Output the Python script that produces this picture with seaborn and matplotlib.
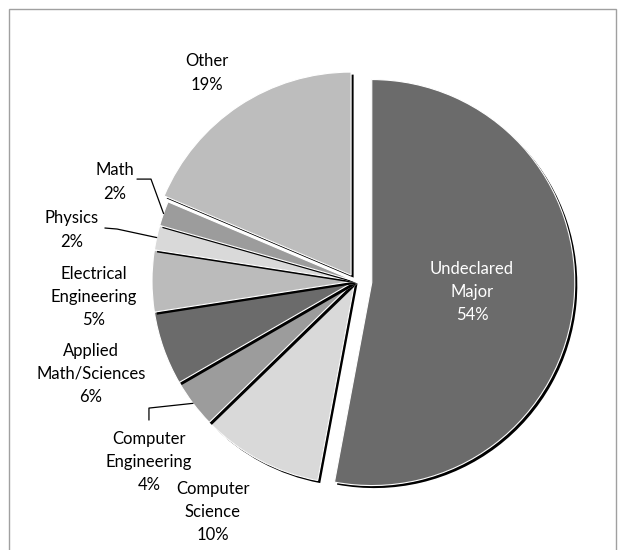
import matplotlib
matplotlib.use("Agg")
import matplotlib.pyplot as plt
import matplotlib.patches as mpatches
import seaborn as sns
import numpy as np
from matplotlib.patches import Rectangle

sns.set_theme(style="white")
plt.rcParams['font.family'] = ['Lato', 'DejaVu Sans']

# ---- data ----
categories = ["Undeclared\nMajor", "Computer\nScience", "Computer\nEngineering",
              "Applied\nMath/Sciences", "Electrical\nEngineering", "Physics",
              "Math", "Other"]
values = [54, 10, 4, 6, 5, 2, 2, 19]
pct_labels = ["54%", "10%", "4%", "6%", "5%", "2%", "2%", "19%"]
colors = ["#6b6b6b", "#d9d9d9", "#9c9c9c", "#6b6b6b", "#bbbbbb", "#d9d9d9", "#9c9c9c", "#bdbdbd"]
explode = [0.083, 0, 0, 0, 0, 0, 0, 0.035]

# ---- layout (data units, pie radius = 1) ----
label_pos = [(0.576, -0.054), (-0.700, -1.138), (-1.015, -0.892), (-1.300, -0.458),
             (-1.286, -0.079), (-1.394, 0.251), (-1.182, 0.488), (-0.729, 1.025)]
leaders = {6: [(-1.074, 0.502), (-1.005, 0.502)],
           5: [(-1.232, 0.261), (-1.172, 0.256)],
           2: [(-1.015, -0.685), (-1.015, -0.626)]}

fig = plt.figure(figsize=(6.24, 5.5), dpi=100)
ax = fig.add_axes([0, 0, 1, 1])

wedges, _ = ax.pie(values, colors=colors, explode=explode, startangle=90,
                   counterclock=False, radius=1.0,
                   wedgeprops=dict(edgecolor="white", linewidth=0.8))

# shadow of each wedge sits above the previous wedges but below its own wedge
for i, w in enumerate(wedges):
    w.set_zorder(3 + 2 * i)
    sh = mpatches.Shadow(w, 0.009, -0.009, shade=1.0, alpha=1.0,
                         linewidth=0, zorder=2 + 2 * i)
    ax.add_patch(sh)

for i, (cat, pct) in enumerate(zip(categories, pct_labels)):
    x, y = label_pos[i]
    col = "white" if i == 0 else "black"
    ax.text(x, y, f"{cat}\n{pct}", ha="center", va="center", fontsize=12,
            color=col, linespacing=1.55, zorder=40)

for i, pts in leaders.items():
    w = wedges[i]
    mid = np.deg2rad((w.theta1 + w.theta2) / 2)
    cx, cy = w.center
    end = (cx + w.r * np.cos(mid), cy + w.r * np.sin(mid))
    xs = [p[0] for p in pts] + [end[0]]
    ys = [p[1] for p in pts] + [end[1]]
    ax.plot(xs, ys, color="black", linewidth=0.9, zorder=30)

# map pie centre to pixel (355, 281) with radius 203 px
r_px = 203.0
ax.set_xlim((0 - 355) / r_px, (624 - 355) / r_px)
ax.set_ylim((281 - 550) / r_px, (281 - 0) / r_px)
ax.set_aspect("auto")
ax.axis("off")

fig.patches.append(Rectangle((9 / 624, -0.1), (616 - 9) / 624, 1.1 - 9 / 550,
                             transform=fig.transFigure, fill=False,
                             edgecolor="#a0a0a0", linewidth=1.0))

fig.savefig("out.png", dpi=100)
